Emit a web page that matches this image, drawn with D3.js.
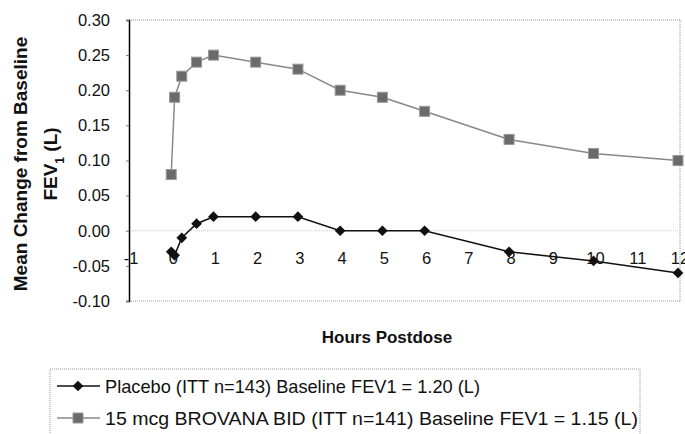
<!DOCTYPE html>
<html>
  <head>
    <meta charset="utf-8">
    <title>FEV1 change from baseline</title>
    <script src="https://cdn.jsdelivr.net/npm/d3@7"></script>
    <style>
      body { margin: 0; background: #fff; }
      text { font-family: "Liberation Sans", Arial, sans-serif; fill: #111; }
    </style>
  </head>
  <body>
    <svg id="chart" width="685" height="434"></svg>

    <script>
      // data
      hours = [0, 0.08, 0.25, 0.6, 1, 2, 3, 4, 5, 6, 8, 10, 12];
      placebo = [-0.03, -0.035, -0.01, 0.01, 0.02, 0.02, 0.02, 0.0, 0.0, 0.0, -0.03, -0.043, -0.06];
      brovana = [0.08, 0.19, 0.22, 0.24, 0.25, 0.24, 0.23, 0.20, 0.19, 0.17, 0.13, 0.11, 0.10];
      xTicks = [-1, 0, 1, 2, 3, 4, 5, 6, 7, 8, 9, 10, 11, 12];
      yTicks = [-0.10, -0.05, 0.00, 0.05, 0.10, 0.15, 0.20, 0.25, 0.30];
      legendLabels = [
        "Placebo (ITT n=143) Baseline FEV1 = 1.20 (L)",
        "15 mcg BROVANA BID (ITT n=141) Baseline FEV1 = 1.15 (L)"
      ];

      svg = d3.select("#chart");
      x = d3.scaleLinear().domain([-1, 12]).range([129, 678]);
      y = d3.scaleLinear().domain([-0.1, 0.3]).range([301, 20]);

      // plot frame (dotted, grey)
      frame = svg.append("g")
        .attr("stroke", "#999")
        .attr("stroke-dasharray", "1,1")
        .attr("fill", "none");
      frame.append("line").attr("x1", x(-1)).attr("x2", x(12) + 2).attr("y1", y(0.3)).attr("y2", y(0.3));
      frame.append("line").attr("x1", x(-1)).attr("x2", x(12) + 2).attr("y1", y(-0.1)).attr("y2", y(-0.1));
      frame.append("line").attr("x1", x(12) + 2).attr("x2", x(12) + 2).attr("y1", y(0.3)).attr("y2", y(-0.1));
      frame.append("line").attr("x1", x(-1)).attr("x2", x(12) + 2).attr("y1", y(0)).attr("y2", y(0))
        .attr("stroke", "#ccc");

      // y axis
      yAxis = svg.append("g")
        .attr("transform", "translate(" + x(-1) + ",0)")
        .call(d3.axisLeft(y).tickValues(yTicks).tickSize(3).tickPadding(16)
          .tickFormat(d3.format(".2f")));
      yAxis.select(".domain").attr("stroke", "#000").attr("stroke-width", 1.5);
      yAxis.selectAll(".tick line").attr("stroke", "#777");
      yAxis.selectAll("text")
        .style("font-size", "16.5px")
        .style("font-family", "Liberation Sans, Arial, sans-serif")
        .attr("fill", "#111")
        .text(function(d) { return d3.format(".2f")(d).replace("−", "-"); });

      // x tick labels sit below the zero line
      svg.append("g")
        .selectAll("text")
        .data(xTicks)
        .enter().append("text")
          .attr("x", function(d) { return x(d) + 2; })
          .attr("y", y(0) + 33)
          .attr("text-anchor", "middle")
          .style("font-size", "16.5px")
          .text(function(d) { return d; });

      line = d3.line()
        .x(function(d, i) { return x(hours[i]); })
        .y(function(d) { return y(d); });

      // BROVANA series: grey line, grey squares
      svg.append("path")
        .datum(brovana)
        .attr("d", line)
        .attr("fill", "none")
        .attr("stroke", "#888")
        .attr("stroke-width", 1.5);
      svg.append("g")
        .selectAll("rect")
        .data(brovana)
        .enter().append("rect")
          .attr("x", function(d, i) { return x(hours[i]) - 5; })
          .attr("y", function(d) { return y(d) - 5; })
          .attr("width", 10)
          .attr("height", 10)
          .attr("fill", "#6a6a6a")
          .attr("stroke", "#999");

      // placebo series: black line, black diamonds
      svg.append("path")
        .datum(placebo)
        .attr("d", line)
        .attr("fill", "none")
        .attr("stroke", "#111")
        .attr("stroke-width", 1.5);
      svg.append("g")
        .selectAll("path")
        .data(placebo)
        .enter().append("path")
          .attr("transform", function(d, i) {
            return "translate(" + x(hours[i]) + "," + y(d) + ") rotate(45)";
          })
          .attr("d", "M-3.8,-3.8H3.8V3.8H-3.8Z")
          .attr("fill", "#111");

      // axis titles
      svg.append("text")
        .attr("transform", "translate(27,164) rotate(-90)")
        .attr("text-anchor", "middle")
        .style("font-size", "19px")
        .style("font-weight", "bold")
        .text("Mean Change from Baseline");
      yTitle = svg.append("text")
        .attr("transform", "translate(57,164) rotate(-90)")
        .attr("text-anchor", "middle")
        .style("font-size", "19px")
        .style("font-weight", "bold");
      yTitle.append("tspan").text("FEV");
      yTitle.append("tspan").attr("baseline-shift", "sub").style("font-size", "12px").text("1");
      yTitle.append("tspan").text(" (L)");

      svg.append("text")
        .attr("x", 387)
        .attr("y", 343)
        .attr("text-anchor", "middle")
        .style("font-size", "17px")
        .style("font-weight", "bold")
        .text("Hours Postdose");

      // legend
      legend = svg.append("g");
      legend.append("rect")
        .attr("x", 50).attr("y", 369).attr("width", 590).attr("height", 70)
        .attr("fill", "none")
        .attr("stroke", "#999")
        .attr("stroke-dasharray", "1,1");
      rows = legend.selectAll(".row")
        .data(legendLabels)
        .enter().append("g")
          .attr("class", "row")
          .attr("transform", function(d, i) { return "translate(0," + (386 + i * 32) + ")"; });
      rows.append("line")
        .attr("x1", 57).attr("x2", 100)
        .attr("stroke", function(d, i) { return i == 0 ? "#111" : "#888"; })
        .attr("stroke-width", 1.5);
      rows.append("path")
        .attr("transform", function(d, i) { return "translate(78,0)" + (i == 0 ? " rotate(45)" : ""); })
        .attr("d", function(d, i) { return i == 0 ? "M-3.8,-3.8H3.8V3.8H-3.8Z" : "M-5,-5H5V5H-5Z"; })
        .attr("fill", function(d, i) { return i == 0 ? "#111" : "#6a6a6a"; })
        .attr("stroke", function(d, i) { return i == 0 ? "none" : "#999"; });
      rows.append("text")
        .attr("x", 105)
        .attr("dy", "0.35em")
        .style("font-size", "19px")
        .attr("textLength", function(d, i) { return i == 0 ? 375 : 533; })
        .attr("lengthAdjust", "spacingAndGlyphs")
        .text(function(d) { return d; });
    </script>
  </body>
</html>
